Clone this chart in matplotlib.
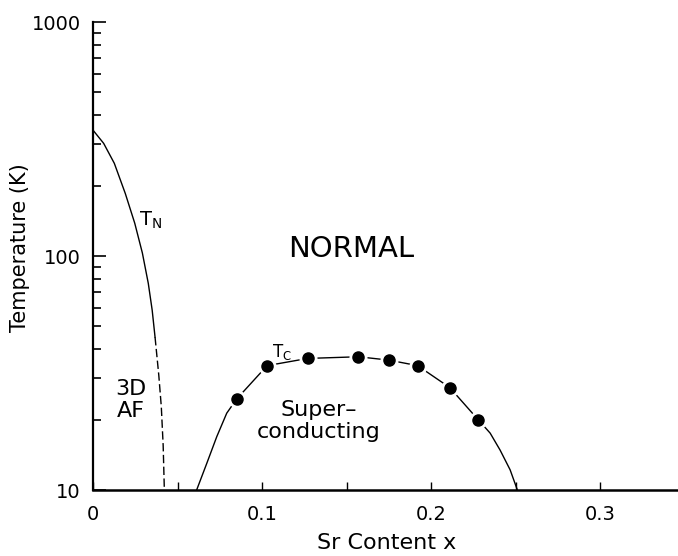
import matplotlib
matplotlib.use('Agg')
import matplotlib.pyplot as plt
from matplotlib.ticker import FixedLocator, LogLocator, NullFormatter, FixedFormatter

plt.rcParams['font.family'] = ['DejaVu Sans']

# Neel temperature boundary
tn_x = [0.0, 0.0063, 0.0126, 0.0191, 0.0247, 0.0292, 0.0327, 0.035, 0.0367]
tn_T = [345, 303, 249, 185, 138, 103, 76.4, 58.7, 45]
# lower, dashed part of the T_N boundary
tn_dash_x = [0.0367, 0.0389, 0.0404, 0.0415, 0.0422]
tn_dash_T = [45, 31, 22.7, 15.5, 10]

# measured Tc points
tc_x = [0.085, 0.103, 0.127, 0.157, 0.175, 0.192, 0.211, 0.228]
tc_T = [24.5, 34.0, 36.5, 37.1, 35.9, 34.0, 27.4, 19.9]

# superconducting dome boundary ends
dome_lo_x = [0.0613, 0.0673, 0.0732, 0.0791]
dome_lo_T = [10, 13.0, 16.9, 21.3]
dome_hi_x = [0.2349, 0.2408, 0.2467, 0.251]
dome_hi_T = [17.5, 14.8, 12.2, 10]

x_major = [0, 0.1, 0.2, 0.3]
x_major_labels = ['0', '0.1', '0.2', '0.3']
x_minor = [0.05, 0.15, 0.25]
y_major = [10, 100, 1000]
y_major_labels = ['10', '100', '1000']

fig = plt.figure(figsize=(6.78, 5.56), dpi=100)
ax = fig.add_axes([93 / 678, 66 / 556, 585 / 678, 468 / 556])

ax.set_yscale('log')
ax.set_xlim(0, 0.346)
ax.set_ylim(10, 1000)

# T_N line
ax.plot(tn_x, tn_T, color='black', lw=1.0)
ax.plot(tn_dash_x, tn_dash_T, color='black', lw=1.0, dashes=(6, 2.5))

# Tc dome
dome_x = dome_lo_x + tc_x + dome_hi_x
dome_T = dome_lo_T + tc_T + dome_hi_T
ax.plot(dome_x, dome_T, color='black', lw=1.0, zorder=2)
ax.plot(tc_x, tc_T, 'o', color='white', ms=12, zorder=3)
ax.plot(tc_x, tc_T, 'o', color='black', ms=8, zorder=4)

# texts
ax.text(0.153, 107, 'NORMAL', fontsize=21, ha='center', va='center')
ax.text(0.0225, 24.2, '3D\nAF', fontsize=16, ha='center', va='center',
        linespacing=1.1)
ax.text(0.1337, 19.7, 'Super\u2013\nconducting', fontsize=16, ha='center',
        va='center', linespacing=1.1)
ax.text(0.112, 38.9, r'T$_\mathregular{C}$', fontsize=12, ha='center', va='center')
ax.text(0.034, 142, r'T$_\mathregular{N}$', fontsize=14, ha='center', va='center')

# axes style
for s in ['top', 'right']:
    ax.spines[s].set_visible(False)
ax.spines['left'].set_linewidth(1.6)
ax.spines['bottom'].set_linewidth(1.8)

ax.xaxis.set_major_locator(FixedLocator(x_major))
ax.xaxis.set_major_formatter(FixedFormatter(x_major_labels))
ax.xaxis.set_minor_locator(FixedLocator(x_minor))
ax.yaxis.set_major_locator(FixedLocator(y_major))
ax.yaxis.set_major_formatter(FixedFormatter(y_major_labels))
ax.yaxis.set_minor_locator(LogLocator(base=10, subs=range(2, 10)))
ax.yaxis.set_minor_formatter(NullFormatter())

ax.tick_params(axis='x', which='both', direction='in', length=6, width=1.0,
               pad=11, labelsize=14)
ax.tick_params(axis='y', which='major', direction='in', length=9, width=1.2,
               pad=9, labelsize=14)
ax.tick_params(axis='y', which='minor', direction='in', length=6, width=1.2)

fig.text(20 / 678, 1 - 248 / 556, 'Temperature (K)', rotation=90,
         ha='center', va='center', fontsize=15)
fig.text(387 / 678, 1 - 543 / 556, 'Sr Content x', ha='center', va='center',
         fontsize=16)

plt.savefig('out.png', dpi=100)
